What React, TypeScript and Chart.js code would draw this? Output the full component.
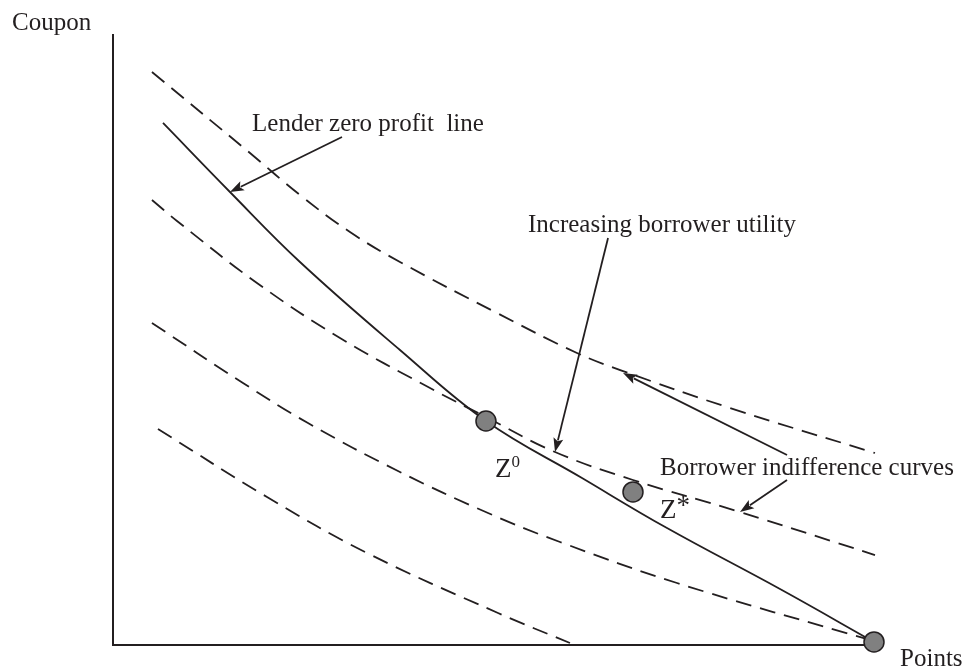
import React, { useEffect, useRef } from "react";
import { Chart, registerables } from "chart.js";

Chart.register(...registerables);

// ---- Axis ranges (abstract units) ----
const X_MIN = 0;
const X_MAX = 10;
const Y_MIN = 0;
const Y_MAX = 8;

// ---- Lender zero profit line (solid) ----
const lenderX = [0.657, 1.537, 2.457, 3.771, 4.901, 6.163, 7.28, 8.765, 10.0];
const lenderY = [6.846, 5.941, 5.023, 3.869, 2.938, 2.19, 1.534, 0.734, 0.04];

// ---- Borrower indifference curves (dashed) ----
const curve1X = [0.512, 1.8, 2.457, 3.114, 3.771, 5.046, 6.097, 6.702, 8.108, 10.013];
const curve1Y = [7.515, 6.452, 5.902, 5.416, 5.023, 4.354, 3.83, 3.593, 3.108, 2.518];

const curve2X = [0.512, 0.841, 1.892, 2.983, 4.166, 4.901, 5.808, 6.833, 8.239, 10.013];
const curve2Y = [5.836, 5.561, 4.748, 4.026, 3.37, 2.99, 2.531, 2.164, 1.744, 1.18];

const curve3X = [0.512, 1.708, 2.562, 3.745, 4.928, 5.874, 7.411, 9.947];
const curve3Y = [4.223, 3.436, 2.911, 2.282, 1.731, 1.351, 0.813, 0.066];

const curve4X = [0.591, 2.024, 3.338, 5.059, 6.005];
const curve4Y = [2.833, 1.941, 1.207, 0.42, 0.026];

// ---- Marked points: Z0, Z*, corner point ----
const markerX = [4.901, 6.833, 10.0];
const markerY = [2.938, 2.007, 0.04];

// ---- Annotation texts ----
const noteTexts = ["Lender zero profit  line", "Increasing borrower utility", "Borrower indifference curves"];
const noteX = [1.827, 5.453, 7.188];
const noteY = [6.741, 5.416, 2.23];

const yAxisTitle = "Coupon";
const xAxisTitle = "Points";

const pointNames = ["Z", "Z"];
const pointMarks = ["0", "*"];
const pointNameX = [5.02, 7.188];
const pointNameY = [2.203, 1.666];

// ---- Arrows (from -> to) ----
const arrowFromX = [3.009, 6.505, 8.857, 8.857];
const arrowFromY = [6.662, 5.338, 2.492, 2.164];
const arrowToX = [1.537, 5.808, 6.702, 8.239];
const arrowToY = [5.941, 2.531, 3.567, 1.744];

const INK = "#231f20";
const SERIF = '"Liberation Serif", "Times New Roman", Times, serif';

const zip = (xs: number[], ys: number[]) => xs.map((x, i) => ({ x, y: ys[i] }));

const overlayPlugin = {
  id: "overlay",
  afterDatasetsDraw(chart: any) {
    const { ctx, scales } = chart;
    const sx = scales.x;
    const sy = scales.y;
    const px = (v: number) => sx.getPixelForValue(v);
    const py = (v: number) => sy.getPixelForValue(v);
    ctx.save();
    ctx.fillStyle = INK;
    ctx.strokeStyle = INK;
    ctx.textAlign = "left";
    ctx.textBaseline = "alphabetic";

    // Annotation texts
    ctx.font = `25px ${SERIF}`;
    noteTexts.forEach((t, i) => ctx.fillText(t, px(noteX[i]), py(noteY[i])));

    // Axis titles
    ctx.fillText(yAxisTitle, px(-1.327), py(8.066));
    ctx.fillText(xAxisTitle, px(10.342), py(-0.275));

    // Point names with superscripts
    pointNames.forEach((n, i) => {
      const x0 = px(pointNameX[i]);
      const y0 = py(pointNameY[i]);
      ctx.font = `27px ${SERIF}`;
      ctx.fillText(n, x0, y0);
      const w = ctx.measureText(n).width;
      if (pointMarks[i] === "*") {
        ctx.font = `27px ${SERIF}`;
        ctx.fillText(pointMarks[i], x0 + w, y0 - 4);
      } else {
        ctx.font = `17px ${SERIF}`;
        ctx.fillText(pointMarks[i], x0 + w, y0 - 10);
      }
    });

    // Arrows
    ctx.lineWidth = 1.8;
    arrowFromX.forEach((_, i) => {
      const x1 = px(arrowFromX[i]);
      const y1 = py(arrowFromY[i]);
      const x2 = px(arrowToX[i]);
      const y2 = py(arrowToY[i]);
      const ang = Math.atan2(y2 - y1, x2 - x1);
      const headLen = 14;
      const headHalf = 5;
      const bx = x2 - headLen * Math.cos(ang);
      const by = y2 - headLen * Math.sin(ang);
      ctx.beginPath();
      ctx.moveTo(x1, y1);
      ctx.lineTo(bx + 2 * Math.cos(ang), by + 2 * Math.sin(ang));
      ctx.stroke();
      ctx.beginPath();
      ctx.moveTo(x2, y2);
      ctx.lineTo(bx + headHalf * Math.sin(ang), by - headHalf * Math.cos(ang));
      ctx.lineTo(bx + 3 * Math.cos(ang), by + 3 * Math.sin(ang));
      ctx.lineTo(bx - headHalf * Math.sin(ang), by + headHalf * Math.cos(ang));
      ctx.closePath();
      ctx.fill();
    });

    ctx.restore();
  },
};

export default function App() {
  const canvasRef = useRef<HTMLCanvasElement | null>(null);

  useEffect(() => {
    if (!canvasRef.current) return;
    const dashed = (xs: number[], ys: number[]) => ({
      data: zip(xs, ys),
      showLine: true,
      borderColor: INK,
      borderWidth: 1.8,
      borderDash: [16, 9],
      pointRadius: 0,
      fill: false,
      tension: 0.4,
      clip: false as any,
      order: 2,
    });
    const chart = new Chart(canvasRef.current, {
      type: "scatter",
      data: {
        datasets: [
          {
            data: zip(markerX, markerY),
            showLine: false,
            pointRadius: 10,
            pointHoverRadius: 10,
            pointBackgroundColor: "#808080",
            pointBorderColor: INK,
            pointBorderWidth: 1.5,
            clip: false as any,
            order: 0,
          } as any,
          {
            data: zip(lenderX, lenderY),
            showLine: true,
            borderColor: INK,
            borderWidth: 1.8,
            pointRadius: 0,
            fill: false,
            tension: 0.4,
            clip: false as any,
            order: 1,
          } as any,
          dashed(curve1X, curve1Y) as any,
          dashed(curve2X, curve2Y) as any,
          dashed(curve3X, curve3Y) as any,
          dashed(curve4X, curve4Y) as any,
        ],
      },
      options: {
        animation: false,
        responsive: false,
        maintainAspectRatio: false,
        events: [],
        layout: { padding: { left: 113, top: 35, right: 95, bottom: 27 } },
        plugins: {
          legend: { display: false },
          tooltip: { enabled: false },
          title: { display: false },
        },
        scales: {
          x: {
            type: "linear",
            min: X_MIN,
            max: X_MAX,
            grid: { display: false, drawTicks: false },
            ticks: { display: false },
            border: { display: true, color: INK, width: 2 },
          },
          y: {
            type: "linear",
            min: Y_MIN,
            max: Y_MAX,
            grid: { display: false, drawTicks: false },
            ticks: { display: false },
            border: { display: true, color: INK, width: 2 },
          },
        },
      },
      plugins: [overlayPlugin],
    });
    return () => chart.destroy();
  }, []);

  return (
    <div style={{ position: "fixed", left: 0, top: 0, width: 969, height: 672, background: "#ffffff" }}>
      <canvas ref={canvasRef} width={969} height={672} style={{ display: "block" }} />
    </div>
  );
}
